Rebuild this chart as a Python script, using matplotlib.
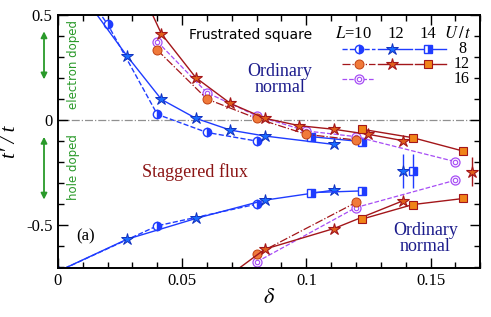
import numpy as np
import matplotlib
matplotlib.use('Agg')
import matplotlib.pyplot as plt
from matplotlib.ticker import MultipleLocator

plt.rcParams['font.family'] = 'Liberation Serif'
plt.rcParams['mathtext.fontset'] = 'stix'

# U/t = 8 (blue)
b10_up_x = [0.01, 0.02, 0.04, 0.06, 0.08]
b10_up_y = [0.62, 0.456, 0.027, -0.059, -0.100]
b12_up_x = [2/144, 4/144, 6/144, 8/144, 10/144, 12/144, 16/144]
b12_up_y = [0.53, 0.305, 0.098, 0.008, -0.048, -0.076, -0.116]
b14_up_x = [20/196, 24/196]
b14_up_y = [-0.079, -0.103]
b10_lo_x = [0.0, 0.04, 0.08]
b10_lo_y = [-0.72, -0.503, -0.400]
b12_lo_x = [0.0, 4/144, 8/144, 12/144, 16/144]
b12_lo_y = [-0.72, -0.567, -0.468, -0.381, -0.333]
b14_lo_x = [20/196, 24/196]
b14_lo_y = [-0.345, -0.337]
b12_err = (20/144, -0.243, 0.08)
b14_err = (28/196, -0.243, 0.08)

# U/t = 12 (dark red / orange)
r10_up_x = [0.04, 0.06, 0.08, 0.10, 0.12]
r10_up_y = [0.333, 0.100, 0.008, -0.068, -0.095]
r12_up_x = [4/144, 6/144, 8/144, 10/144, 12/144, 14/144, 16/144, 18/144, 20/144]
r12_up_y = [0.76, 0.41, 0.201, 0.079, 0.008, -0.027, -0.044, -0.068, -0.098]
r14_up_x = [24/196, 28/196, 32/196]
r14_up_y = [-0.044, -0.084, -0.148]
r10_lo_x = [0.08, 0.12]
r10_lo_y = [-0.638, -0.392]
r12_lo_x = [10/144, 12/144, 16/144, 20/144]
r12_lo_y = [-0.735, -0.614, -0.516, -0.384]
r14_lo_x = [24/196, 28/196, 32/196]
r14_lo_y = [-0.471, -0.402, -0.373]
r12_err = (24/144, -0.246, 0.07)

# U/t = 16 (purple)
p10_up_x = [0.04, 0.06, 0.08, 0.10, 0.12, 0.16]
p10_up_y = [0.373, 0.130, 0.020, -0.052, -0.079, -0.198]
p10_lo_x = [0.08, 0.12, 0.16]
p10_lo_y = [-0.675, -0.416, -0.286]

BLUE = '#1f3cff'
STAR_B = '#1a6cff'
DRED = '#a3161a'
ORANGE = '#f07a3a'
PURPLE = '#a64cf5'
NAVY = '#1c1c8c'
GREEN = '#2a9a2a'

st_b10 = dict(color=BLUE, ls='--', lw=1.0, marker='o', ms=6, mfc=BLUE, mfcalt='white',
              fillstyle='right', mec=BLUE, mew=1.0)
st_b12 = dict(color=BLUE, ls='-', lw=1.0, marker='*', ms=9, mfc=STAR_B, mec='#1030c0', mew=0.7)
st_b14 = dict(color=BLUE, ls='-', lw=1.0, marker='s', ms=5.5, mfc=BLUE, mfcalt='white',
              fillstyle='right', mec=BLUE, mew=1.0)
st_r10 = dict(color=DRED, ls='-.', lw=0.9, marker='o', ms=6.5, mfc=ORANGE, mec='#c04010', mew=0.7)
st_r12 = dict(color=DRED, ls='-', lw=1.0, marker='*', ms=9, mfc='#e0601c', mec=DRED, mew=0.8)
st_r14 = dict(color=DRED, ls='-', lw=1.0, marker='s', ms=5.5, mfc='#f08418', mec=DRED, mew=0.8)
st_p10 = dict(color=PURPLE, ls='--', lw=0.9, marker='o', ms=6.5, mfc='white', mec=PURPLE, mew=0.9)
st_p10_in = dict(ls='none', marker='o', ms=3.2, mfc='none', mec=PURPLE, mew=0.8)

fig = plt.figure(figsize=(4.91, 3.17), dpi=100)
ax = fig.add_axes([0.118, 0.155, 0.860, 0.798])

ax.axhline(0, color='#909090', ls='-.', lw=0.9, zorder=1)

ax.plot(b10_up_x, b10_up_y, **st_b10)
ax.plot(b10_lo_x, b10_lo_y, **st_b10)
ax.plot(b12_up_x, b12_up_y, **st_b12)
ax.plot(b12_lo_x, b12_lo_y, **st_b12)
ax.plot(b14_up_x, b14_up_y, **st_b14)
ax.plot(b14_lo_x, b14_lo_y, **st_b14)

ax.plot(p10_up_x, p10_up_y, **st_p10)
ax.plot(p10_up_x, p10_up_y, **st_p10_in)
ax.plot(p10_lo_x, p10_lo_y, **st_p10)
ax.plot(p10_lo_x, p10_lo_y, **st_p10_in)

ax.plot(r10_up_x, r10_up_y, **st_r10)
ax.plot(r10_lo_x, r10_lo_y, **st_r10)
ax.plot(r12_up_x, r12_up_y, **st_r12)
ax.plot(r12_lo_x, r12_lo_y, **st_r12)
ax.plot(r14_up_x, r14_up_y, **st_r14)
ax.plot(r14_lo_x, r14_lo_y, **st_r14)

for (x, y, e), st in [(b12_err, st_b12), (b14_err, st_b14), (r12_err, st_r12)]:
    s = dict(st)
    s['ls'] = 'none'
    ax.errorbar([x], [y], yerr=[e], ecolor=s['color'], elinewidth=1.0, capsize=0, **s)

ax.set_xlim(0, 0.170)
ax.set_ylim(-0.703, 0.5)
ax.xaxis.set_major_locator(MultipleLocator(0.05))
ax.xaxis.set_minor_locator(MultipleLocator(0.01))
ax.yaxis.set_major_locator(MultipleLocator(0.5))
ax.yaxis.set_minor_locator(MultipleLocator(0.1))
ax.set_xticks([0, 0.05, 0.1, 0.15])
ax.set_xticklabels(['0', '0.05', '0.1', '0.15'])
ax.set_yticks([-0.5, 0, 0.5])
ax.set_yticklabels(['-0.5', '0', '0.5'])
ax.tick_params(which='both', direction='in', top=True, right=True, labelsize=12, width=1.0)
ax.tick_params(which='major', length=7, pad=4)
ax.tick_params(which='minor', length=4)
for sp in ax.spines.values():
    sp.set_linewidth(1.4)

ax.set_xlabel(r'$\delta$', fontsize=16, labelpad=0)
ax.set_ylabel('t\u2032 / t', fontsize=15, style='italic', labelpad=4)

# annotations
ax.text(0.31, 0.921, 'Frustrated square', transform=ax.transAxes, family='DejaVu Sans',
        fontsize=10, va='center', ha='left')
ax.text(0.526, 0.745, 'Ordinary\nnormal', transform=ax.transAxes, color=NAVY,
        fontsize=13, ha='center', va='center', linespacing=0.95)
ax.text(0.87, 0.115, 'Ordinary\nnormal', transform=ax.transAxes, color=NAVY,
        fontsize=13, ha='center', va='center', linespacing=0.95)
ax.text(0.325, 0.379, 'Staggered flux', transform=ax.transAxes, color='#8b1414',
        fontsize=13, ha='center', va='center')
ax.text(0.066, 0.123, '(a)', transform=ax.transAxes, fontsize=12, ha='center', va='center')
ax.text(0.036, 0.802, 'electron doped', transform=ax.transAxes, color=GREEN, rotation=90,
        family='DejaVu Sans', fontsize=8.5, ha='center', va='center')
ax.text(0.036, 0.40, 'hole doped', transform=ax.transAxes, color=GREEN, rotation=90,
        family='DejaVu Sans', fontsize=8.5, ha='center', va='center')
for y0, y1 in [(0.935, 0.745), (0.518, 0.270)]:
    ax.annotate('', xy=(-0.033, y0), xytext=(-0.033, y1), xycoords='axes fraction',
                textcoords='axes fraction', annotation_clip=False,
                arrowprops=dict(arrowstyle='<|-|>', color=GREEN, lw=1.3,
                                mutation_scale=9, shrinkA=0, shrinkB=0))

# legend block
hy = 0.925
ax.text(0.699, hy, r'$L$=10', transform=ax.transAxes, fontsize=12, ha='center', va='center')
ax.text(0.799, hy, '12', transform=ax.transAxes, fontsize=12, ha='center', va='center')
ax.text(0.877, hy, '14', transform=ax.transAxes, fontsize=12, ha='center', va='center')
ax.text(0.948, hy, r'$U\,/\,t$', transform=ax.transAxes, fontsize=12, ha='center', va='center')
rows = [(0.866, '8', [(st_b10, 0.672, 0.752, 0.713), (st_b12, 0.757, 0.838, 0.791),
                      (st_b14, 0.845, 0.920, 0.877)]),
        (0.807, '12', [(st_r10, 0.672, 0.752, 0.713), (st_r12, 0.757, 0.838, 0.791),
                       (st_r14, 0.845, 0.920, 0.877)]),
        (0.748, '16', [(st_p10, 0.672, 0.752, 0.713)])]
for ry, lab, items in rows:
    for st, xa, xb, xm in items:
        s = dict(st)
        s.pop('marker')
        ax.plot([xa, xb], [ry, ry], transform=ax.transAxes, clip_on=False,
                **{k: v for k, v in s.items() if k in ('color', 'ls', 'lw')})
        ax.plot([xm], [ry], transform=ax.transAxes, clip_on=False, **st)
        if st is st_p10:
            ax.plot([xm], [ry], transform=ax.transAxes, clip_on=False, **st_p10_in)
    ax.text(0.957, ry, lab, transform=ax.transAxes, fontsize=11.5, ha='center', va='center')

fig.savefig('out.png', dpi=100)
